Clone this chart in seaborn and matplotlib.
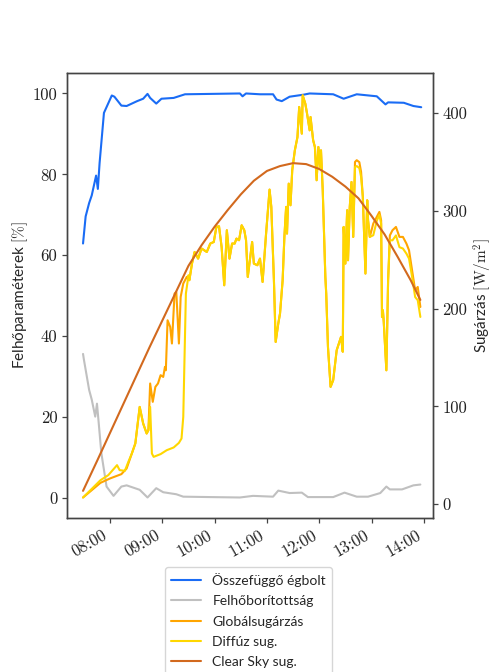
import pandas as pd
import matplotlib
matplotlib.use("Agg")
import matplotlib.pyplot as plt
import matplotlib.dates as mdates
import seaborn as sns

# --- Felhőparaméterek [%] ---------------------------------------------------
sky_times = ["07:29", "07:32", "07:36", "07:39", "07:44", "07:46", "07:48", "07:53",
             "08:02", "08:05", "08:13", "08:19", "08:31", "08:38", "08:43", "08:46",
             "08:53", "08:59", "09:13", "09:26", "10:29", "10:32", "10:36", "10:52",
             "11:07", "11:11", "11:17", "11:26", "11:42", "11:49", "12:16", "12:28",
             "12:43", "13:06", "13:16", "13:19", "13:37", "13:48", "13:57"]
sky_pct = [62.9, 69.6, 72.9, 74.8, 79.7, 76.4, 82.8, 95.2,
           99.5, 99.2, 97.0, 96.9, 98.1, 98.7, 99.9, 98.9,
           97.5, 98.7, 98.9, 99.8, 100.0, 99.3, 100.0, 99.8,
           99.8, 98.5, 98.1, 99.2, 99.7, 100.0, 99.8, 98.7,
           99.8, 99.3, 97.3, 97.8, 97.7, 96.9, 96.6]

cover_times = ["07:29", "07:30", "07:36", "07:39", "07:43", "07:45", "07:47", "07:50",
               "07:56", "08:04", "08:13", "08:19", "08:34", "08:43", "08:53", "09:01",
               "09:16", "09:24", "09:55", "10:29", "10:44", "11:07", "11:13", "11:26",
               "11:40", "11:47", "12:16", "12:29", "12:43", "12:56", "13:10", "13:17",
               "13:21", "13:35", "13:48", "13:56"]
cover_pct = [35.6, 34.2, 26.7, 24.3, 20.1, 23.3, 18.5, 11.1,
             2.8, 0.5, 2.8, 3.1, 2.0, 0.1, 2.4, 1.4,
             0.9, 0.3, 0.2, 0.1, 0.5, 0.3, 1.8, 1.2,
             1.3, 0.2, 0.2, 1.3, 0.3, 0.3, 1.2, 2.8,
             2.1, 2.1, 3.1, 3.3]

# --- Sugárzás [W/m2] ---------------------------------------------------------
global_times = ["07:29", "07:40", "07:49", "08:00", "08:13", "08:19", "08:25", "08:29",
                "08:34", "08:38", "08:42", "08:44", "08:46", "08:49", "08:52", "08:55",
                "08:58", "09:01", "09:03", "09:04", "09:06", "09:09", "09:11", "09:14",
                "09:16", "09:19", "09:21", "09:24", "09:27", "09:28", "09:31", "09:34",
                "09:37", "09:41", "09:45", "09:51", "09:55", "09:59", "10:02", "10:05",
                "10:08", "10:11", "10:14", "10:17", "10:20", "10:23", "10:25", "10:28",
                "10:31", "10:34", "10:36", "10:38", "10:43", "10:45", "10:49", "10:52",
                "10:55", "10:59", "11:03", "11:05", "11:08", "11:10", "11:13", "11:15",
                "11:18", "11:20", "11:22", "11:23", "11:25", "11:27", "11:29", "11:32",
                "11:35", "11:37", "11:40", "11:41", "11:44", "11:46", "11:49", "11:50",
                "11:53", "11:55", "11:57", "11:59", "12:01", "12:02", "12:04", "12:07",
                "12:08", "12:10", "12:13", "12:16", "12:20", "12:25", "12:27", "12:28",
                "12:30", "12:32", "12:33", "12:35", "12:37", "12:39", "12:41", "12:43",
                "12:46", "12:48", "12:50", "12:53", "12:55", "12:56", "12:58", "13:02",
                "13:06", "13:09", "13:11", "13:12", "13:13", "13:14", "13:17", "13:19",
                "13:21", "13:24", "13:28", "13:32", "13:36", "13:40", "13:43", "13:47",
                "13:50", "13:53", "13:56"]
global_rad = [6.8, 15.0, 21.8, 26.3, 30.7, 36.5, 51.8, 62.1,
              99.5, 82.5, 72.3, 75.7, 123.5, 104.7, 120.0, 123.5,
              132.0, 130.2, 140.5, 137.0, 188.2, 181.4, 164.4, 215.5,
              217.2, 164.4, 212.0, 225.8, 230.9, 232.5, 229.2, 246.2,
              258.1, 251.3, 261.6, 258.1, 266.7, 268.3, 283.7, 284.4,
              263.2, 224.0, 280.3, 251.3, 266.7, 266.7, 271.8, 270.1,
              285.4, 280.3, 270.1, 232.5, 268.3, 246.2, 244.5, 251.3,
              227.4, 276.9, 321.9, 304.2, 229.2, 166.0, 184.9, 195.1,
              229.2, 273.5, 304.2, 276.9, 328.0, 305.9, 341.7, 362.1,
              375.7, 406.5, 379.2, 418.4, 409.9, 399.7, 382.6, 396.2,
              372.4, 365.5, 331.5, 365.5, 345.1, 362.1, 321.2, 232.5,
              215.5, 160.9, 120.0, 126.9, 157.5, 171.2, 156.0, 283.7,
              246.2, 300.8, 249.6, 304.2, 329.7, 273.5, 350.2, 352.0,
              350.0, 340.0, 314.4, 236.0, 311.0, 290.5, 273.5, 287.2,
              294.0, 299.1, 290.5, 191.6, 198.5, 186.5, 137.0, 229.2,
              275.0, 280.3, 283.7, 273.5, 273.5, 266.7, 259.8, 236.0,
              218.9, 222.3, 201.8]

diffuse_times = ["07:29", "07:40", "07:49", "07:58", "08:08", "08:11", "08:17", "08:21",
                 "08:25", "08:29", "08:34", "08:38", "08:42", "08:44", "08:46", "08:48",
                 "08:50", "08:58", "09:05", "09:13", "09:19", "09:22", "09:24", "09:27",
                 "09:30", "09:31", "09:34", "09:37", "09:41", "09:45", "09:51", "09:55",
                 "09:59", "10:02", "10:05", "10:08", "10:11", "10:14", "10:17", "10:20",
                 "10:23", "10:25", "10:28", "10:31", "10:34", "10:36", "10:38", "10:43",
                 "10:45", "10:49", "10:52", "10:55", "10:59", "11:03", "11:05", "11:08",
                 "11:10", "11:13", "11:15", "11:18", "11:20", "11:22", "11:23", "11:25",
                 "11:27", "11:29", "11:32", "11:35", "11:37", "11:40", "11:41", "11:44",
                 "11:46", "11:49", "11:50", "11:53", "11:55", "11:57", "11:59", "12:01",
                 "12:02", "12:04", "12:07", "12:08", "12:10", "12:13", "12:16", "12:20",
                 "12:25", "12:27", "12:28", "12:30", "12:32", "12:33", "12:35", "12:37",
                 "12:39", "12:41", "12:43", "12:46", "12:48", "12:50", "12:53", "12:55",
                 "12:56", "12:58", "13:02", "13:06", "13:09", "13:11", "13:12", "13:13",
                 "13:14", "13:17", "13:19", "13:21", "13:24", "13:28", "13:32", "13:36",
                 "13:40", "13:43", "13:47", "13:50", "13:53", "13:56"]
diffuse_rad = [6.8, 16.5, 24.5, 29.7, 39.9, 34.8, 34.1, 43.3,
               51.8, 62.1, 99.5, 82.5, 72.3, 75.7, 99.5, 51.8,
               48.4, 51.2, 55.2, 58.0, 62.7, 67.2, 89.3, 215.5,
               234.3, 229.2, 246.2, 258.1, 251.3, 261.6, 258.1, 266.7,
               268.3, 283.7, 284.4, 263.2, 224.0, 280.3, 251.3, 266.7,
               266.7, 271.8, 270.1, 285.4, 280.3, 270.1, 232.5, 268.3,
               246.2, 244.5, 251.3, 227.4, 276.9, 321.9, 304.2, 229.2,
               166.0, 184.9, 195.1, 229.2, 273.5, 304.2, 276.9, 328.0,
               305.9, 341.7, 362.1, 375.7, 406.5, 379.2, 418.4, 409.9,
               399.7, 382.6, 396.2, 372.4, 365.5, 331.5, 365.5, 345.1,
               362.1, 321.2, 232.5, 215.5, 160.9, 120.0, 126.9, 157.5,
               171.2, 156.0, 283.7, 246.2, 300.8, 249.6, 304.2, 329.7,
               273.5, 345.0, 346.0, 344.0, 335.0, 314.4, 236.0, 311.0,
               290.5, 273.5, 275.2, 290.0, 296.0, 287.0, 191.6, 198.5,
               186.5, 137.0, 229.2, 270.1, 270.0, 275.0, 263.0, 261.6,
               256.4, 251.3, 230.0, 212.0, 208.7, 191.6]

clear_times = ["07:29", "07:45", "08:00", "08:15", "08:30", "08:45", "09:00", "09:15",
               "09:30", "09:45", "10:00", "10:15", "10:30", "10:45", "11:00", "11:15",
               "11:30", "11:45", "12:00", "12:15", "12:30", "12:45", "13:00", "13:15",
               "13:30", "13:45", "13:56"]
clear_rad = [13.6, 44.0, 73.0, 102.0, 131.0, 160.0, 188.0, 216.0,
             244.0, 265.0, 284.0, 301.0, 317.0, 331.0, 341.0, 346.0,
             349.0, 348.0, 343.0, 335.0, 325.0, 313.0, 295.0, 276.0,
             253.0, 229.0, 209.0]

series_labels = ["Összefüggő égbolt", "Felhőborítottság", "Globálsugárzás",
                 "Diffúz sug.", "Clear Sky sug."]
series_colors = ["#1a6cf5", "#c0c0c0", "#ffa500", "#ffd700", "#d2691e"]

DAY = "2021-06-01 "


def frame(times, values):
    return pd.DataFrame({"time": pd.to_datetime([DAY + t for t in times]),
                         "value": values})


sns.set_theme(style="ticks")
plt.rcParams["font.family"] = ["Lato", "DejaVu Sans"]
plt.rcParams["mathtext.fontset"] = "cm"
plt.rcParams["axes.edgecolor"] = "#444444"
plt.rcParams["axes.linewidth"] = 1.0

fig = plt.figure(figsize=(4.93, 6.72), dpi=100)
ax = fig.add_axes([0.136, 0.229, 0.742, 0.662])
ax2 = ax.twinx()

kw = dict(x="time", y="value", estimator=None, errorbar=None, sort=False,
          linewidth=1.5, legend=False)

sns.lineplot(data=frame(sky_times, sky_pct), ax=ax, color=series_colors[0], **kw)
sns.lineplot(data=frame(cover_times, cover_pct), ax=ax, color=series_colors[1], **kw)
sns.lineplot(data=frame(global_times, global_rad), ax=ax2, color=series_colors[2], **kw)
sns.lineplot(data=frame(diffuse_times, diffuse_rad), ax=ax2, color=series_colors[3], **kw)
sns.lineplot(data=frame(clear_times, clear_rad), ax=ax2, color=series_colors[4], **kw)

ax.set_xlim(pd.Timestamp(DAY + "07:10:40"), pd.Timestamp(DAY + "14:10:20"))
ax.set_ylim(-5, 105)
ax2.set_ylim(-14.3, 441)
ax.set_yticks([0, 20, 40, 60, 80, 100])
ax2.set_yticks([0, 100, 200, 300, 400])

ax.xaxis.set_major_locator(mdates.HourLocator())
ax.xaxis.set_major_formatter(mdates.DateFormatter("%H:%M"))

for a in (ax, ax2):
    a.tick_params(labelfontfamily="cmr10", labelsize=12, length=3.5, width=0.9,
                  color="#444444", labelcolor="#222222")
for lbl in ax.get_xticklabels():
    lbl.set_rotation(30)
    lbl.set_ha("right")

ax.set_xlabel("")
ax.set_ylabel("Felhőparaméterek $[\\%]$", fontsize=11, labelpad=2)
ax2.set_ylabel("Sugárzás $[\\mathrm{W/m^2}]$", fontsize=11, labelpad=3)

handles = list(ax.get_lines()) + list(ax2.get_lines())
fig.legend(handles, series_labels, loc="upper center",
           bbox_to_anchor=(0.504, 0.166), fontsize=10, labelspacing=0.6,
           handlelength=2.2, frameon=True, borderpad=0.4)

fig.savefig("out.png", dpi=100)
